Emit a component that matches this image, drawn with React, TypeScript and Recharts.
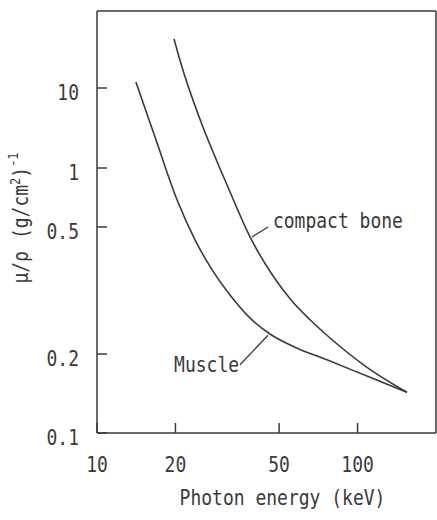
import { LineChart, Line, XAxis, YAxis, ReferenceLine, ReferenceDot } from "recharts"

// photon energy ticks (keV) and the printed mass attenuation ticks
const X_TICKS = [10, 20, 50, 100]
const Y_TICKS = [0.1, 0.2, 0.5, 1, 10]
const Y_LABELS = ["0.1", "0.2", "0.5", "1", "10"]
// the printed y axis is not evenly logarithmic: axis position (px from bottom) of each labelled value
const Y_TICK_POS = [0, 79, 206, 265, 345]
const Y_TOP = 422

const muscleEnergy = [14.1, 16.8, 20.3, 23.8, 27.1, 32.4, 38.7, 46.1, 57.5, 76.3, 111.6, 154.7]
const muscleMu = [11.9, 2.3, 0.687, 0.455, 0.377, 0.306, 0.259, 0.231, 0.21, 0.19, 0.163, 0.143]

const boneEnergy = [19.75, 20.8, 25.5, 28.4, 31.8, 38.7, 47.4, 56.0, 65.7, 78.4, 108.7, 154.7]
const boneMu = [41, 22.4, 3.25, 1.37, 0.8, 0.465, 0.351, 0.293, 0.256, 0.2245, 0.178, 0.143]

const muscleLeader = [{ E: 35.4, mu: 0.182 }, { E: 45.3, mu: 0.229 }]
const boneLeader = [{ E: 39.3, mu: 0.465 }, { E: 45.3, mu: 0.5 }]

const INK = "#3a3a3a"
const FONT = "'DejaVu Sans Mono', monospace"

const LOGS = Y_TICKS.map(Math.log10)
const warp = (v: number) => {
  const lv = Math.log10(v)
  let i = 0
  while (i < LOGS.length - 2 && lv > LOGS[i + 1]) i++
  const t = (lv - LOGS[i]) / (LOGS[i + 1] - LOGS[i])
  return Y_TICK_POS[i] + t * (Y_TICK_POS[i + 1] - Y_TICK_POS[i])
}

const muscleData = muscleEnergy.map((E, i) => ({ E, y: warp(muscleMu[i]) }))
const boneData = boneEnergy.map((E, i) => ({ E, y: warp(boneMu[i]) }))
const yTickPos = Y_TICKS.map(warp)

function StretchText({ x, y, anchor = "start", rotate = 0, children }: any) {
  return (
    <g transform={`translate(${x},${y}) rotate(${rotate}) scale(1,1.2)`}>
      <text x={0} y={0} textAnchor={anchor} fontFamily={FONT} fontSize={18} fill={INK}>
        {children}
      </text>
    </g>
  )
}

const LeftTick = (props: any) => (
  <StretchText x={props.x} y={props.y + 12} anchor="end">
    {Y_LABELS[props.index]}
  </StretchText>
)

const BottomTick = (props: any) => (
  <StretchText x={props.x} y={props.y} anchor="middle">
    {props.payload.value}
  </StretchText>
)

const XTitle = (props: any) => {
  const vb = props.viewBox
  return (
    <StretchText x={vb.x + vb.width / 2 + 16} y={vb.y + 72} anchor="middle">
      Photon energy (keV)
    </StretchText>
  )
}

const YTitle = (props: any) => {
  const vb = props.viewBox
  return (
    <g transform={`translate(${vb.x + 28},${vb.y + vb.height / 2 - 4}) rotate(-90) scale(1,1.2)`}>
      <text x={0} y={0} textAnchor="middle" fontFamily={FONT} fontSize={18} fill={INK}>
        μ/ρ
        <tspan dx={12}>(g/cm</tspan>
        <tspan dy={-7} fontSize={12}>2</tspan>
        <tspan dy={7}>)</tspan>
        <tspan dy={-8} fontSize={12}>-1</tspan>
      </text>
    </g>
  )
}

const MuscleLabel = (props: any) => (
  <StretchText x={props.viewBox.x - 1} y={props.viewBox.y + 7} anchor="end">
    Muscle
  </StretchText>
)

const BoneLabel = (props: any) => (
  <StretchText x={props.viewBox.x + 5} y={props.viewBox.y + 1}>
    compact bone
  </StretchText>
)

export default function App() {
  return (
    <div style={{ position: "absolute", left: 0, top: 0, background: "#fff" }}>
      <LineChart width={437} height={520} margin={{ top: 10, right: 0, bottom: 0, left: 0 }}>
        <XAxis
          dataKey="E"
          type="number"
          scale="log"
          domain={[10, 200]}
          allowDataOverflow
          ticks={X_TICKS}
          interval={0}
          height={87}
          stroke={INK}
          strokeWidth={1.5}
          tickSize={-10}
          tickMargin={49}
          tick={<BottomTick />}
          label={XTitle}
        />
        <XAxis
          xAxisId="top"
          orientation="top"
          dataKey="E"
          type="number"
          scale="log"
          domain={[10, 200]}
          allowDataOverflow
          ticks={X_TICKS}
          interval={0}
          height={1}
          stroke={INK}
          strokeWidth={1.5}
          tickSize={-8}
          tick={false}
        />
        <YAxis
          type="number"
          domain={[0, Y_TOP]}
          allowDataOverflow
          ticks={yTickPos}
          interval={0}
          width={97}
          stroke={INK}
          strokeWidth={1.5}
          tickSize={-10}
          tickMargin={28}
          tick={<LeftTick />}
          label={YTitle}
        />
        <YAxis
          yAxisId="right"
          orientation="right"
          type="number"
          domain={[0, Y_TOP]}
          allowDataOverflow
          ticks={yTickPos}
          interval={0}
          width={1}
          stroke={INK}
          strokeWidth={1.5}
          tickSize={-9}
          tick={false}
        />
        <Line
          data={muscleData}
          dataKey="y"
          type="monotone"
          stroke={INK}
          strokeWidth={1.6}
          dot={false}
          isAnimationActive={false}
        />
        <Line
          data={boneData}
          dataKey="y"
          type="monotone"
          stroke={INK}
          strokeWidth={1.6}
          dot={false}
          isAnimationActive={false}
        />
        <ReferenceLine
          segment={muscleLeader.map((p) => ({ x: p.E, y: warp(p.mu) }))}
          stroke={INK}
          strokeWidth={1.3}
        />
        <ReferenceLine
          segment={boneLeader.map((p) => ({ x: p.E, y: warp(p.mu) }))}
          stroke={INK}
          strokeWidth={1.3}
        />
        <ReferenceDot
          x={muscleLeader[0].E}
          y={warp(muscleLeader[0].mu)}
          r={0}
          fill="none"
          stroke="none"
          label={MuscleLabel}
        />
        <ReferenceDot
          x={boneLeader[1].E}
          y={warp(boneLeader[1].mu)}
          r={0}
          fill="none"
          stroke="none"
          label={BoneLabel}
        />
      </LineChart>
    </div>
  )
}
